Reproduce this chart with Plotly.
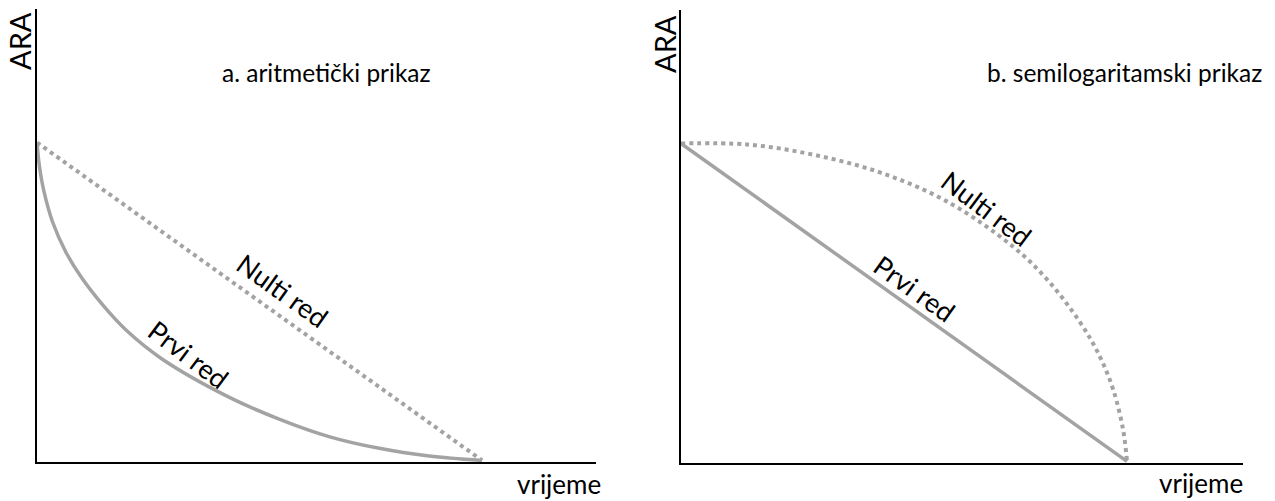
import plotly.graph_objects as go

# Arithmetic plot (a): ARA vs time
t_first_a = [0, 0.05, 0.15, 0.35, 0.65, 1.0, 1.5, 2.0, 2.8, 4.3, 5.44, 6.56, 7.69, 8.81, 10]
ara_first_a = [10, 9.3, 8.5, 7.5, 6.55, 5.75, 4.85, 4.1, 3.2, 2.0, 1.3, 0.75, 0.38, 0.14, 0]
t_zero_a = [0, 10]
ara_zero_a = [10, 0]

# Semilogarithmic plot (b)
t_first_b = [0, 10]
ara_first_b = [10, 0]
t_zero_b = [0, 1.48, 2.96, 4.46, 5.96, 7.44, 8.21, 8.95, 9.39, 9.69, 9.91, 10]
ara_zero_b = [10, 9.97, 9.65, 9.09, 8.18, 6.76, 5.72, 4.37, 3.30, 2.26, 1.01, 0]

GREY = "#a3a3a3"
FONT = "Lato"

fig = go.Figure()

solid = dict(color=GREY, width=3.5)
dotted = dict(color=GREY, width=4, dash="4px,4px")

fig.add_trace(go.Scatter(x=t_first_a, y=ara_first_a, mode="lines", line=solid,
                         line_shape="spline", line_smoothing=1, xaxis="x", yaxis="y"))
fig.add_trace(go.Scatter(x=t_zero_a, y=ara_zero_a, mode="lines", line=dotted,
                         xaxis="x", yaxis="y"))
fig.add_trace(go.Scatter(x=t_first_b, y=ara_first_b, mode="lines", line=solid,
                         xaxis="x2", yaxis="y2"))
fig.add_trace(go.Scatter(x=t_zero_b, y=ara_zero_b, mode="lines", line=dotted,
                         line_shape="spline", xaxis="x2", yaxis="y2"))

W, H = 1275, 501
ax_common = dict(showgrid=False, zeroline=False, showticklabels=False, ticks="",
                 showline=True, linecolor="black", linewidth=1.5, fixedrange=True)

fig.update_layout(
    width=W, height=H,
    margin=dict(l=0, r=0, t=0, b=0),
    paper_bgcolor="white", plot_bgcolor="white",
    showlegend=False,
    font=dict(family=FONT, size=24, color="black"),
    xaxis=dict(domain=[37 / W, 596 / W], range=[0, 12.56], anchor="y", **ax_common),
    yaxis=dict(domain=[1 - 462 / H, 1 - 9 / H], range=[-0.05, 14.2], anchor="x", **ax_common),
    xaxis2=dict(domain=[681 / W, 1243 / W], range=[0, 12.6], anchor="y2", **ax_common),
    yaxis2=dict(domain=[1 - 463 / H, 1 - 10 / H], range=[-0.05, 14.2], anchor="x2", **ax_common),
)


def label(text, x, y, angle=0, size=24):
    fig.add_annotation(text=text, x=x / W, y=1 - y / H, xref="paper", yref="paper",
                       showarrow=False, textangle=angle, xanchor="center", yanchor="middle",
                       font=dict(family=FONT, size=size, color="black"))


label("ARA", 20, 41, angle=-90, size=29)
label("ARA", 665, 44, angle=-90, size=29)
label("a. aritmetički prikaz", 326, 73, size=24.5)
label("b. semilogaritamski prikaz", 1124, 72, size=24.5)
label("vrijeme", 559, 484, size=26)
label("vrijeme", 1201, 483, size=26)
label("Nulti red", 283, 290, angle=35.6, size=27)
label("Prvi red", 189, 354, angle=37, size=27)
label("Nulti red", 987, 208, angle=37, size=27)
label("Prvi red", 915, 288, angle=35.5, size=27)

fig.write_html("out.html")
